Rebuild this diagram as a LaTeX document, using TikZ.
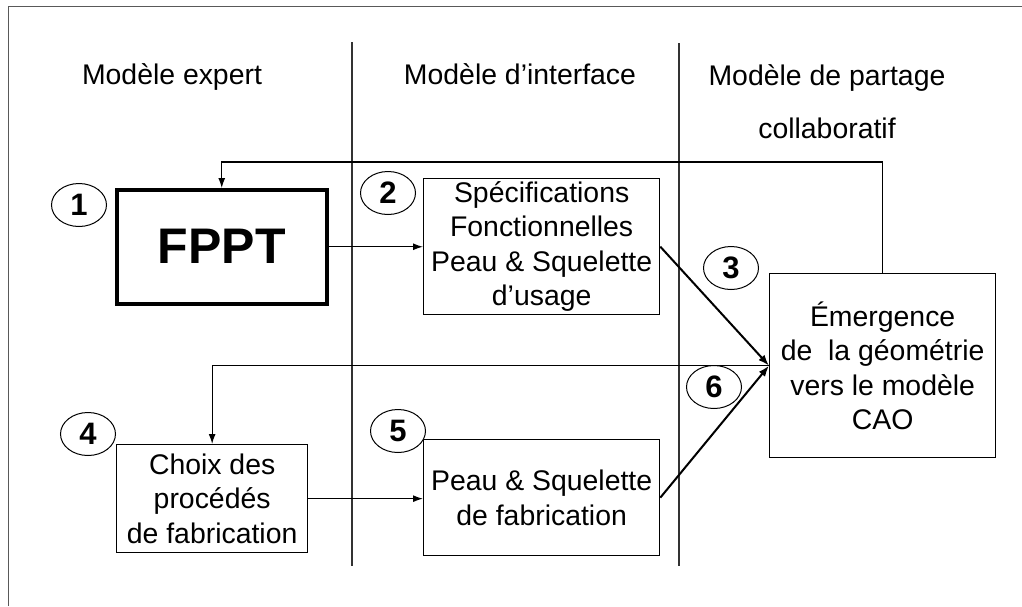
\documentclass[tikz,border=0pt]{standalone}
\usepackage{fontspec}
\setmainfont{Liberation Sans}
\usetikzlibrary{arrows.meta,shapes.geometric}
\begin{document}
\begin{tikzpicture}[x=1pt,y=-1pt,
 txt/.style={font=\fontsize{28.4}{35}\selectfont, align=center, inner sep=0, anchor=base},
 box/.style={draw, line width=1.3pt, font=\fontsize{28.4}{34.5}\selectfont, align=center, inner sep=0, anchor=north west},
 num/.style={draw, ellipse, line width=1pt, minimum width=55pt, minimum height=43pt, inner sep=0, font=\bfseries\fontsize{31}{32}\selectfont},
 conn/.style={line width=1.3pt, -{Latex[length=10pt,width=7pt]}},
 diag/.style={line width=2pt, -{Latex[length=11pt,width=8pt]}},
 sep/.style={line width=1.2pt, black!80},
 frame/.style={line width=1pt, black!65},
]
\useasboundingbox (0,0) rectangle (1022,606);
% frame
\draw[frame] (8,606) -- (8,6) -- (1022,6);
% separators
\draw[sep] (352,42) -- (352,566);
\draw[sep] (679,43) -- (679,566);
% headers
\node[txt] (h1) at (172,84) {Modèle expert};
\node[txt] (h2) at (520,84) {Modèle d’interface};
\node[txt] (h3) at (827,85) {Modèle de partage};
\node[txt] (h4) at (827,138) {collaboratif};
% boxes
\node[box, line width=3.5pt, minimum width=210pt, minimum height=114pt, font=\bfseries\fontsize{50}{55}\selectfont] (fppt) at (115,188) {FPPT};
\node[box, minimum width=236pt, minimum height=136pt] (spec) at (423,178) {Spécifications\\Fonctionnelles\\Peau \& Squelette\\d’usage};
\node[box, minimum width=226pt, minimum height=184pt] (emerg) at (769,273) {Émergence\\de\ \ la géométrie\\vers le modèle\\CAO};
\node[box, minimum width=191pt, minimum height=108pt] (choix) at (116,444) {Choix des\\procédés\\de fabrication};
\node[box, minimum width=236pt, minimum height=116pt] (peau) at (423,439) {Peau \& Squelette\\de fabrication};
% numbers
\node[num] (n1) at (79,205) {1};
\node[num] (n2) at (388,193) {2};
\node[num] (n3) at (731,268) {3};
\node[num] (n6) at (714,387) {6};
\node[num] (n4) at (88,434) {4};
\node[num] (n5) at (398,431) {5};
% connectors
\coordinate (fbtop) at (0,162);
\draw[conn] (emerg.north) -- (emerg.north |- fbtop) -| (fppt.north);
\draw[conn] (fppt.east) -- (spec.west |- fppt.east);
\draw[conn] (emerg.west) -| (choix.north);
\draw[conn] (choix.east) -- (peau.west |- choix.east);
\draw[diag] (spec.east) -- (emerg.west);
\draw[diag] (peau.east) -- (emerg.west);
\end{tikzpicture}
\end{document}
